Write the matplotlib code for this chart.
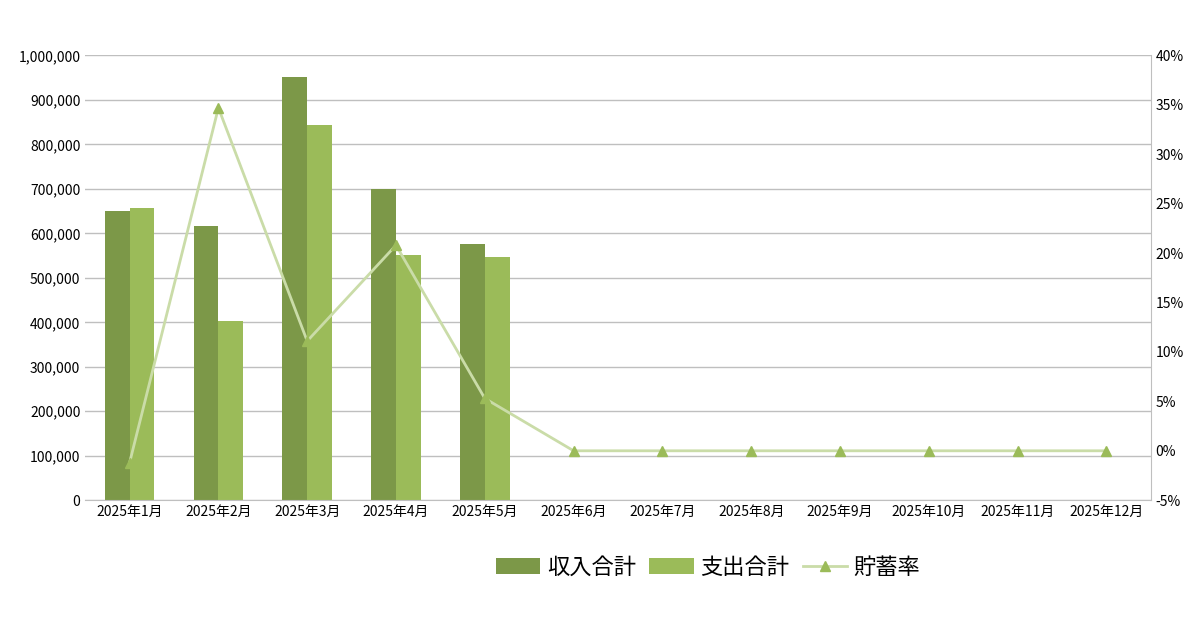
import matplotlib
matplotlib.use("Agg")
import matplotlib.pyplot as plt
import numpy as np

plt.rcParams["font.family"] = ["Noto Sans CJK JP", "DejaVu Sans"]

months = [f"2025年{m}月" for m in range(1, 13)]
income = [650000, 616000, 951000, 699000, 575000]
expense = [658000, 402000, 843000, 551000, 546000]
savings = [-1.2, 34.7, 11.1, 20.8, 5.3, 0, 0, 0, 0, 0, 0, 0]

fig = plt.figure(figsize=(12, 6.3), dpi=100)
ax = fig.add_axes([0.071, 0.206, 0.888, 0.706])
x = np.arange(12)
w = 0.28
ax.bar(x[:5] - w/2, income, w, color="#7C9848", label="収入合計", zorder=2)
ax.bar(x[:5] + w/2, expense, w, color="#9BBB59", label="支出合計", zorder=2)
ax.set_ylim(0, 1000000)
ax.set_yticks(np.arange(0, 1000001, 100000))
ax.set_yticklabels([f"{v:,}" for v in range(0, 1000001, 100000)], fontsize=10)
ax.set_xlim(-0.5, 11.5)
ax.set_xticks(x)
ax.set_xticklabels(months, fontsize=10)
ax.grid(axis="y", color="#BFBFBF", lw=1, zorder=0)
for s in ["top", "right", "left"]:
    ax.spines[s].set_visible(False)
ax.spines["bottom"].set_color("#BFBFBF")
ax.tick_params(length=0)

ax2 = ax.twinx()
ln, = ax2.plot(x, savings, color="#CADCA8", lw=2, marker="^", markersize=7,
               markerfacecolor="#9BBB59", markeredgecolor="#9BBB59", label="貯蓄率", zorder=3)
ax2.set_ylim(-5, 40)
ax2.set_yticks(np.arange(-5, 41, 5))
ax2.set_yticklabels([f"{v}%" for v in range(-5, 41, 5)], fontsize=10)
for s in ["top", "left", "bottom"]:
    ax2.spines[s].set_visible(False)
ax2.spines["right"].set_color("#BFBFBF")
ax2.tick_params(length=0)

h1, l1 = ax.get_legend_handles_labels()
fig.legend(h1 + [ln], l1 + ["貯蓄率"], loc="center", bbox_to_anchor=(0.59, 0.1),
           ncol=3, frameon=False, fontsize=16, handlelength=2, columnspacing=0.6, handletextpad=0.3)
fig.savefig("out.png")
